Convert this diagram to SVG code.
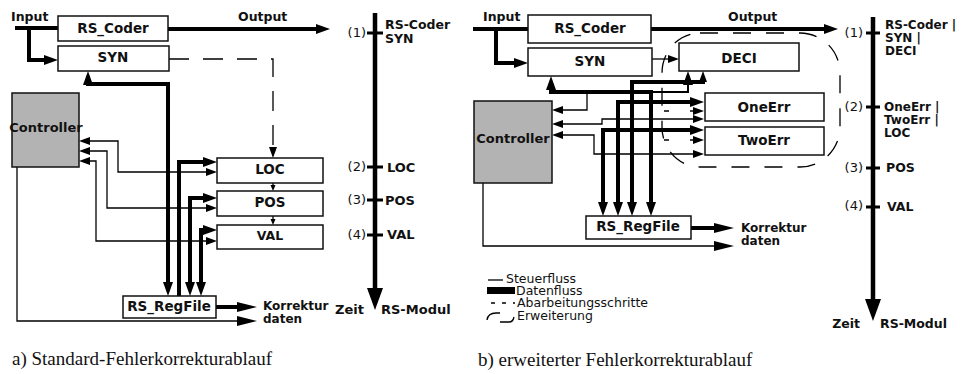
<svg xmlns="http://www.w3.org/2000/svg" width="961" height="374" viewBox="0 0 961 374">
<style>
 .box{fill:#fff;stroke:#111;stroke-width:1.5}
 .ctrl{fill:#b3b3b3;stroke:#111;stroke-width:1.5}
 .lbl{font-family:"DejaVu Sans","Liberation Sans",sans-serif;font-weight:bold;font-size:13.5px;fill:#111}
 .sm{font-size:12.5px}
 .xs{font-size:12px}
 .reg{font-family:"DejaVu Sans","Liberation Sans",sans-serif;font-size:13px;fill:#111}
 .leg{font-size:12.5px}
 .cap{font-family:"Liberation Serif","Times New Roman",serif;font-size:19px;fill:#111}
 .mid{text-anchor:middle}
 .end{text-anchor:end}
 .thick{fill:none;stroke:#000;stroke-width:4}
 .med{fill:none;stroke:#000;stroke-width:2}
 .thin{fill:none;stroke:#000;stroke-width:1.3}
 .dash{fill:none;stroke:#000;stroke-width:1.3;stroke-dasharray:20 14}
 .dash2{fill:none;stroke:#000;stroke-width:1.3;stroke-dasharray:5 21}
 .ext{fill:none;stroke:#000;stroke-width:1.3;stroke-dasharray:18 15}
 .axis{fill:none;stroke:#000;stroke-width:4.5}
 .tick{stroke:#000;stroke-width:3}
 .ah{fill:#000}
</style>
<defs>
 <polygon id="hT" points="0,0 -14,-5 -14,5"/>
 <polygon id="hB" points="0,0 -20,-5 -20,5"/>
 <polygon id="hX" points="0,0 -22,-8 -22,8"/>
 <polygon id="hN" points="0,0 -11,-4 -11,4"/>
 <polygon id="hS" points="0,0 -6,-2.5 -6,2.5"/>
</defs>

<!-- ===== Diagram a ===== -->
<g id="a-connectors">
 <path class="thick" d="M15,28H58"/>
 <path class="thick" d="M29,28V60H50"/>
 <path class="thick" d="M168,29H322"/>
 <path class="dash" d="M169,59H273V150"/>
 <path class="thick" d="M168,289V84H88V78"/>
 <path class="thick" d="M179,296V162H210"/>
 <path class="thick" d="M190,289V198H210"/>
 <path class="thick" d="M201,289V230H210"/>
 <path class="thick" d="M216,307H247"/>
 <path class="thin" d="M213,172H118V141H82"/>
 <path class="thin" d="M213,208H107V151H82"/>
 <path class="thin" d="M213,241H96V161H82"/>
 <path class="thin" d="M17,167V321H250"/>
 <path class="thin" d="M273,183V188"/>
 <path class="thin" d="M273,216V222"/>
 <g class="ah">
  <use href="#hT" transform="translate(58,60)"/>
  <use href="#hT" transform="translate(330,29)"/>
  <use href="#hN" transform="translate(273,158) rotate(90)"/>
  <use href="#hT" transform="translate(88,71) rotate(-90)"/>
  <use href="#hT" transform="translate(168,296) rotate(90)"/>
  <use href="#hT" transform="translate(190,296) rotate(90)"/>
  <use href="#hT" transform="translate(201,296) rotate(90)"/>
  <use href="#hT" transform="translate(217,162)"/>
  <use href="#hT" transform="translate(217,198)"/>
  <use href="#hT" transform="translate(217,230)"/>
  <use href="#hN" transform="translate(217,172)"/>
  <use href="#hN" transform="translate(217,208)"/>
  <use href="#hN" transform="translate(217,241)"/>
  <use href="#hN" transform="translate(79,141) rotate(180)"/>
  <use href="#hN" transform="translate(79,151) rotate(180)"/>
  <use href="#hN" transform="translate(79,161) rotate(180)"/>
  <use href="#hS" transform="translate(273,191) rotate(90)"/>
  <use href="#hS" transform="translate(273,225) rotate(90)"/>
  <use href="#hB" transform="translate(257,307)"/>
  <use href="#hB" transform="translate(257,321)"/>
 </g>
</g>
<text class="lbl sm" x="11" y="21">Input</text>
<text class="lbl sm" x="238" y="21">Output</text>
<text class="lbl xs" x="263" y="310">Korrektur</text>
<text class="lbl xs" x="263" y="323">daten</text>

<g id="a-RS_Coder"><rect class="box" x="58" y="16" width="110" height="25"/><text class="lbl mid" x="113" y="33">RS_Coder</text></g>
<g id="a-SYN"><rect class="box" x="58" y="46" width="111" height="25"/><text class="lbl mid" x="113" y="62">SYN</text></g>
<g id="a-Controller"><rect class="ctrl" x="12" y="93" width="67" height="74"/><text class="lbl mid" x="46" y="132" style="font-size:13px">Controller</text></g>
<g id="a-LOC"><rect class="box" x="217" y="158" width="106" height="25"/><text class="lbl mid" x="270" y="174">LOC</text></g>
<g id="a-POS"><rect class="box" x="217" y="191" width="106" height="25"/><text class="lbl mid" x="270" y="207">POS</text></g>
<g id="a-VAL"><rect class="box" x="217" y="225" width="106" height="24"/><text class="lbl mid sm" x="270" y="240">VAL</text></g>
<g id="a-RS_RegFile"><rect class="box" x="123" y="296" width="93" height="22"/><text class="lbl mid" x="169" y="311">RS_RegFile</text></g>

<g id="a-timeline">
 <path class="axis" d="M375,13V292"/>
 <use class="ah" href="#hX" transform="translate(375,310) rotate(90)"/>
 <path class="tick" d="M367,33H383M367,167H383M367,200H383M367,235H383"/>
 <text class="reg end" x="366" y="37">(1)</text>
 <text class="reg end" x="366" y="171">(2)</text>
 <text class="reg end" x="366" y="204">(3)</text>
 <text class="reg end" x="366" y="239">(4)</text>
 <text class="lbl sm" x="385" y="29">RS-Coder</text>
 <text class="lbl sm" x="385" y="43">SYN</text>
 <text class="lbl" x="387" y="172" style="font-size:13px">LOC</text>
 <text class="lbl" x="385" y="205" style="font-size:13px">POS</text>
 <text class="lbl" x="387" y="239" style="font-size:13px">VAL</text>
 <text class="lbl end" x="364" y="314" style="font-size:13px">Zeit</text>
 <text class="lbl" x="381" y="314" style="font-size:13px">RS-Modul</text>
</g>
<text class="cap" x="12" y="365">a) Standard-Fehlerkorrekturablauf</text>

<!-- ===== Diagram b ===== -->
<g id="b-connectors">
 <path class="ext" d="M700,33H800A40,40 0 0 1 840,73V127A40,40 0 0 1 800,167H700A38,40 0 0 1 662,127V73A38,40 0 0 1 700,33Z"/>
 <path class="thick" d="M473,29H528"/>
 <path class="thick" d="M496,29V63H520"/>
 <path class="thick" d="M651,29H830"/>
 <path class="thin" d="M652,59H672"/>
 <path class="thick" d="M551,83V92H651V209"/>
 <path class="med" d="M651,92H688V80"/>
 <path class="thick" d="M632,209V82H703V77"/>
 <path class="thick" d="M618,209V102H697"/>
 <path class="thick" d="M603,209V130H697"/>
 <path class="thick" d="M691,228H724"/>
 <path class="thin" d="M587,92V110H555"/>
 <path class="thin" d="M701,119H602V124H555"/>
 <path class="thin" d="M701,154H594V135H555"/>
 <path class="thin" d="M483,183V246H727"/>
 <path class="dash2" d="M664,111H700"/>
 <path class="dash2" d="M664,140H700"/>
 <g class="ah">
  <use href="#hT" transform="translate(528,63)"/>
  <use href="#hT" transform="translate(838,29)"/>
  <use href="#hN" transform="translate(679,59)"/>
  <use href="#hT" transform="translate(551,76) rotate(-90)"/>
  <use href="#hT" transform="translate(688,71) rotate(-90)"/>
  <use href="#hN" transform="translate(703,71) rotate(-90)"/>
  <use href="#hT" transform="translate(603,216) rotate(90)"/>
  <use href="#hT" transform="translate(618,216) rotate(90)"/>
  <use href="#hT" transform="translate(632,216) rotate(90)"/>
  <use href="#hT" transform="translate(651,216) rotate(90)"/>
  <use href="#hT" transform="translate(704,102)"/>
  <use href="#hT" transform="translate(704,130)"/>
  <use href="#hN" transform="translate(704,119)"/>
  <use href="#hN" transform="translate(704,154)"/>
  <use href="#hN" transform="translate(704,111)"/>
  <use href="#hN" transform="translate(704,140)"/>
  <use href="#hN" transform="translate(552,110) rotate(180)"/>
  <use href="#hN" transform="translate(552,124) rotate(180)"/>
  <use href="#hN" transform="translate(552,135) rotate(180)"/>
  <use href="#hB" transform="translate(734,228)"/>
  <use href="#hB" transform="translate(734,246)"/>
 </g>
</g>
<text class="lbl sm" x="483" y="21">Input</text>
<text class="lbl sm" x="728" y="21">Output</text>
<text class="lbl xs" x="741" y="232">Korrektur</text>
<text class="lbl xs" x="741" y="245">daten</text>

<g id="b-RS_Coder"><rect class="box" x="528" y="15" width="123" height="28"/><text class="lbl mid" x="590" y="33">RS_Coder</text></g>
<g id="b-SYN"><rect class="box" x="528" y="48" width="124" height="28"/><text class="lbl mid" x="590" y="66">SYN</text></g>
<g id="b-DECI"><rect class="box" x="679" y="43" width="120" height="28"/><text class="lbl mid" x="739" y="63">DECI</text></g>
<g id="b-OneErr"><rect class="box" x="705" y="93" width="119" height="28"/><text class="lbl mid" x="764" y="112">OneErr</text></g>
<g id="b-TwoErr"><rect class="box" x="705" y="127" width="119" height="28"/><text class="lbl mid" x="764" y="145">TwoErr</text></g>
<g id="b-Controller"><rect class="ctrl" x="474" y="101" width="78" height="82"/><text class="lbl mid" x="513" y="143" style="font-size:13px">Controller</text></g>
<g id="b-RS_RegFile"><rect class="box" x="586" y="216" width="105" height="23"/><text class="lbl mid" x="638" y="231">RS_RegFile</text></g>

<g id="b-timeline">
 <path class="axis" d="M873,17V302"/>
 <use class="ah" href="#hX" transform="translate(873,321) rotate(90)"/>
 <path class="tick" d="M866,33H880M866,107H880M866,168H880M866,207H880"/>
 <text class="reg end" x="863" y="37">(1)</text>
 <text class="reg end" x="863" y="111">(2)</text>
 <text class="reg end" x="863" y="172">(3)</text>
 <text class="reg end" x="863" y="210">(4)</text>
 <text class="lbl xs" x="885" y="29">RS-Coder |</text>
 <text class="lbl xs" x="885" y="42">SYN |</text>
 <text class="lbl xs" x="885" y="55">DECI</text>
 <text class="lbl xs" x="884" y="111">OneErr |</text>
 <text class="lbl xs" x="884" y="124">TwoErr |</text>
 <text class="lbl xs" x="884" y="137">LOC</text>
 <text class="lbl sm" x="886" y="172">POS</text>
 <text class="lbl sm" x="887" y="211">VAL</text>
 <text class="lbl end sm" x="860" y="328">Zeit</text>
 <text class="lbl sm" x="880" y="328">RS-Modul</text>
</g>

<g id="b-legend">
 <path class="thin" d="M488,280H503"/>
 <rect x="487" y="287" width="28" height="7" fill="#000"/>
 <path class="thin" d="M491,303H515" style="stroke-dasharray:4 7"/>
 <path class="thin" d="M487,320Q488,313 496,313H500M500,322H509Q513,322 514,317"/>
 <text class="reg leg" x="506" y="283">Steuerfluss</text>
 <text class="reg leg" x="516" y="295">Datenfluss</text>
 <text class="reg leg" x="517" y="307">Abarbeitungsschritte</text>
 <text class="reg leg" x="517" y="320">Erweiterung</text>
</g>
<text class="cap" x="478" y="366">b) erweiterter Fehlerkorrekturablauf</text>
</svg>
